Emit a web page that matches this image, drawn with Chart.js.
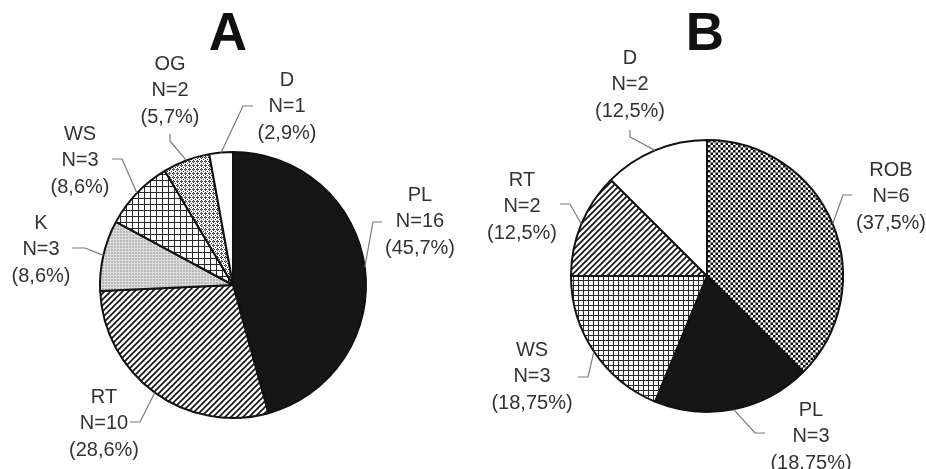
<!DOCTYPE html>
<html>
<head>
<meta charset="utf-8">
<script src="https://cdn.jsdelivr.net/npm/chart.js@4"></script>
<style>
  html, body { margin: 0; padding: 0; background: #fff; }
  #wrap { position: relative; width: 926px; height: 469px; overflow: hidden; }
  canvas { position: absolute; top: 0; }
  #chartA { left: 0; }
  #chartB { left: 463px; }
</style>
</head>
<body>
<div id="wrap">
  <canvas id="chartA" width="463" height="469"></canvas>
  <canvas id="chartB" width="463" height="469"></canvas>
</div>
<script>
// Panel A data
const labelsA = ['PL', 'RT', 'K', 'WS', 'OG', 'D'];
const countsA = [16, 10, 3, 3, 2, 1];
const percentA = ['45,7', '28,6', '8,6', '8,6', '5,7', '2,9'];

// Panel B data
const labelsB = ['ROB', 'PL', 'WS', 'RT', 'D'];
const countsB = [6, 3, 3, 2, 2];
const percentB = ['37,5', '18,75', '18,75', '12,5', '12,5'];

// Small tile -> canvas pattern
function makePattern(w, h, draw) {
    const c = document.createElement('canvas');
    c.width = w;
    c.height = h;
    const g = c.getContext('2d');
    g.fillStyle = '#fff';
    g.fillRect(0, 0, w, h);
    draw(g, w, h);
    return g.createPattern(c, 'repeat');
}

const solid = '#161616';
const white = '#ffffff';

const diagonal = makePattern(6, 6, (g) => {
    g.strokeStyle = '#151515';
    g.lineWidth = 1.7;
    [[-3, 3, 3, -3], [0, 6, 6, 0], [3, 9, 9, 3]].forEach(l => {
        g.beginPath();
        g.moveTo(l[0], l[1]);
        g.lineTo(l[2], l[3]);
        g.stroke();
    });
});

function grid(step) {
    return makePattern(step, step, (g, w) => {
        g.fillStyle = '#2a2a2a';
        g.fillRect(0, 0, w, 1);
        g.fillRect(0, 0, 1, w);
    });
}

const lightGrey = makePattern(3, 3, (g) => {
    g.fillStyle = '#b9b9b9';
    g.fillRect(0, 0, 3, 3);
    g.fillStyle = '#dcdcdc';
    g.fillRect(2, 0, 1, 3);
    g.fillRect(0, 2, 3, 1);
});

const dotted = makePattern(4, 4, (g) => {
    g.fillStyle = '#333';
    [[1, 0], [0, 1], [2, 1], [1, 2], [3, 3]].forEach(p => g.fillRect(p[0], p[1], 1, 1));
    g.fillStyle = '#999';
    g.fillRect(1, 1, 1, 1);
});

const checker = makePattern(10, 10, (g) => {
    g.fillStyle = '#111';
    for (let i = 0; i < 4; i++) {
        for (let j = 0; j < 4; j++) {
            if ((i + j) % 2 === 0) g.fillRect(i * 2.5, j * 2.5, 2.5, 2.5);
        }
    }
});

const fillsA = [solid, diagonal, lightGrey, grid(6), dotted, white];
const fillsB = [checker, solid, grid(5), diagonal, white];

// label anchor (text centre x, first line y) and leader line [end, elbow] - panel-local px
const layoutA = [
    { x: 420, y: 195, lead: [[382, 222], [373, 222]] },
    { x: 104, y: 397, lead: [[130, 422], [140, 422]] },
    { x: 41, y: 223, lead: [[72, 248], [85, 248]] },
    { x: 80, y: 134, lead: [[112, 159], [122, 159]] },
    { x: 170, y: 64, lead: [[170, 134], [170, 141]] },
    { x: 287, y: 80, lead: [[253, 106], [243, 106]] }
];
const layoutB = [
    { x: 428, y: 170, lead: [[389, 195], [380, 195]] },
    { x: 348, y: 410, lead: [[302, 433], [292, 433]] },
    { x: 69, y: 350, lead: [[115, 377], [125, 377]] },
    { x: 59, y: 180, lead: [[97, 204], [107, 204]] },
    { x: 167, y: 58, lead: [[167, 130], [167, 137]] }
];

// Draws title, leader lines and the three-line labels
const labelPlugin = {
    id: 'pieLabels',
    afterDraw(chart, args, opts) {
        const c = chart.ctx;
        const meta = chart.getDatasetMeta(0);
        c.save();
        c.fillStyle = '#111';
        c.font = 'bold 53px "Liberation Sans", Arial, sans-serif';
        c.textAlign = 'center';
        c.textBaseline = 'alphabetic';
        c.fillText(opts.title, opts.titleX, 50);

        c.font = '20px "Liberation Sans", Arial, sans-serif';
        c.textBaseline = 'middle';
        opts.layout.forEach((l, i) => {
            const arc = meta.data[i];
            const mid = (arc.startAngle + arc.endAngle) / 2;
            const ex = arc.x + arc.outerRadius * Math.cos(mid);
            const ey = arc.y + arc.outerRadius * Math.sin(mid);
            c.strokeStyle = '#7a7a7a';
            c.lineWidth = 1.2;
            c.beginPath();
            c.moveTo(l.lead[0][0], l.lead[0][1]);
            c.lineTo(l.lead[1][0], l.lead[1][1]);
            c.lineTo(ex, ey);
            c.stroke();

            c.fillStyle = '#333';
            const lines = [
                chart.data.labels[i],
                'N=' + chart.data.datasets[0].data[i],
                '(' + opts.percents[i] + '%)'
            ];
            lines.forEach((t, k) => c.fillText(t, l.x, l.y + k * 26.5));
        });
        c.restore();
    }
};

function makePie(id, labels, counts, fills, padding, extra) {
    return new Chart(document.getElementById(id), {
        type: 'pie',
        data: {
            labels: labels,
            datasets: [{
                data: counts,
                backgroundColor: fills,
                borderColor: '#111',
                borderWidth: 2
            }]
        },
        options: {
            responsive: false,
            devicePixelRatio: 1,
            animation: false,
            layout: { padding: padding },
            plugins: {
                legend: { display: false },
                tooltip: { enabled: false },
                pieLabels: extra
            }
        },
        plugins: [labelPlugin]
    });
}

makePie('chartA', labelsA, countsA, fillsA,
    { left: 99, right: 96, top: 151, bottom: 50 },
    { title: 'A', titleX: 228, layout: layoutA, percents: percentA });

makePie('chartB', labelsB, countsB, fillsB,
    { left: 107, right: 82, top: 139, bottom: 56 },
    { title: 'B', titleX: 242, layout: layoutB, percents: percentB });
</script>
</body>
</html>
